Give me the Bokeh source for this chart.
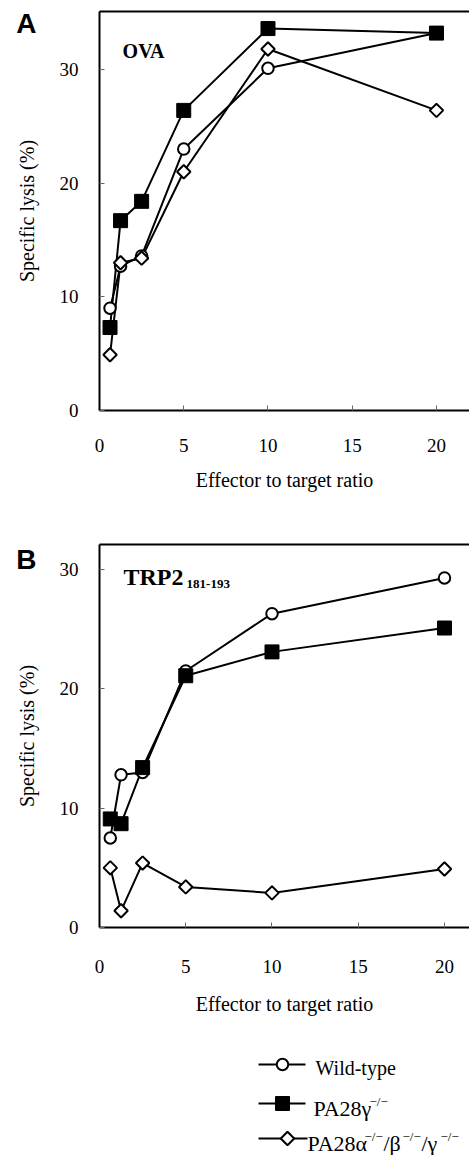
import math
from bokeh.plotting import figure
from bokeh.layouts import column
from bokeh.models import Range1d, LinearAxis, FixedTicker, Label, CustomJSTickFormatter
from bokeh.core.properties import value
from bokeh.embed import file_html
from bokeh.resources import INLINE

# ---------------- data ----------------
ratios = [0.625, 1.25, 2.5, 5, 10, 20]
ova_wild_type = [9.0, 12.7, 13.6, 23.0, 30.1, 33.2]
ova_pa28g = [7.3, 16.7, 18.4, 26.4, 33.6, 33.2]
ova_pa28abg = [4.9, 13.0, 13.4, 21.0, 31.8, 26.4]
trp2_wild_type = [7.5, 12.8, 13.0, 21.5, 26.3, 29.3]
trp2_pa28g = [9.1, 8.7, 13.4, 21.1, 23.1, 25.1]
trp2_pa28abg = [5.0, 1.4, 5.4, 3.4, 2.9, 4.9]
x_ticks = [0, 5, 10, 15, 20]
y_ticks = [0, 10, 20, 30]
x_label = "Effector to target ratio"
y_label = "Specific lysis (%)"

SERIF = "Liberation Serif"
SANS = "Liberation Sans"
W = 469
LEFT = 99


def make_panel(height, border_top, border_bottom, x_end, y_end,
               tick_standoff, xlabel_standoff, letter, letter_pos):
    p = figure(width=W, height=height, output_backend="svg", toolbar_location=None,
               x_range=Range1d(0, x_end), y_range=Range1d(0, y_end),
               min_border_left=LEFT, min_border_right=0,
               min_border_top=border_top, min_border_bottom=border_bottom)
    p.grid.visible = False
    p.outline_line_color = None
    for ax in (p.xaxis[0], p.yaxis[0]):
        ax.axis_line_width = 2
        ax.axis_line_color = "black"
        ax.major_tick_in = 5
        ax.major_tick_out = 0
        ax.major_tick_line_color = "#666666"
        ax.minor_tick_line_color = None
        ax.major_label_text_font = SERIF
        ax.major_label_text_font_size = "19px"
        ax.major_label_text_color = "black"
        ax.axis_label_text_font = SERIF
        ax.axis_label_text_font_size = "20px"
        ax.axis_label_text_font_style = "normal"
        ax.axis_label_text_color = "black"
    p.xaxis.ticker = FixedTicker(ticks=x_ticks)
    p.yaxis.ticker = FixedTicker(ticks=y_ticks)
    p.xaxis.axis_label = x_label
    p.yaxis.axis_label = y_label
    p.xaxis.major_label_standoff = tick_standoff
    p.xaxis.axis_label_standoff = xlabel_standoff
    p.yaxis.major_label_standoff = 21
    p.yaxis.axis_label_standoff = 19
    # top frame line
    top = LinearAxis(ticker=FixedTicker(ticks=[]), axis_line_width=2, axis_line_color="black",
                     major_tick_line_color=None, minor_tick_line_color=None,
                     major_label_standoff=0, major_tick_out=0, major_tick_in=0)
    p.add_layout(top, "above")
    # panel letter, drawn as the single label of an outer left axis (pixel-unit range)
    frame_h = height - border_top - border_bottom
    p.extra_y_ranges = {"letter": Range1d(0, frame_h)}
    lab = LinearAxis(y_range_name="letter", ticker=FixedTicker(ticks=[letter_pos]),
                     formatter=CustomJSTickFormatter(code='return "%s";' % letter),
                     axis_line_color=None, major_tick_line_color=None,
                     minor_tick_line_color=None, major_tick_in=0, major_tick_out=0,
                     major_label_standoff=-24, major_label_text_font=SANS,
                     major_label_text_font_size="28px", major_label_text_font_style="bold",
                     major_label_text_color="black")
    p.add_layout(lab, "left")
    return p


def draw_series(p, wt, g, abg):
    for ys in (wt, abg, g):
        p.line(ratios, ys, line_width=2, line_color="black")
    p.scatter(ratios, wt, marker="circle", size=11.5, fill_color="white",
              line_color="black", line_width=2)
    p.scatter(ratios, abg, marker="square", angle=math.pi / 4, size=9.5,
              fill_color="white", line_color="black", line_width=2)
    p.scatter(ratios, g, marker="square", size=14, fill_color="black",
              line_color="black", line_width=1)


lab_style = dict(text_font=SERIF, text_font_style="bold", text_align="left",
                 text_baseline="alphabetic", text_color="black")

# ---------------- panel A ----------------
pa = make_panel(495, 11, 85, 21.96, 35.1, 28, 14, "A", 387)
draw_series(pa, ova_wild_type, ova_pa28g, ova_pa28abg)
pa.add_layout(Label(x=1.37, y=31.6, text="OVA", text_font_size="20px", **lab_style))

# ---------------- panel B ----------------
pb = make_panel(535, 49, 103, 21.45, 32.1, 32, 17, "B", 368)
draw_series(pb, trp2_wild_type, trp2_pa28g, trp2_pa28abg)
pb.add_layout(Label(x=1.39, y=29.34, text="TRP2", text_font_size="24px", **lab_style))
pb.add_layout(Label(x=5.05, y=28.83, text="181-193", text_font_size="13px", **lab_style))

# ---------------- legend ----------------
LH = 125
pl = figure(width=W, height=LH, output_backend="svg", toolbar_location=None,
            x_range=Range1d(LEFT, W), y_range=Range1d(LH, 0),
            x_axis_location=None, y_axis_location=None,
            min_border_left=LEFT, min_border_right=0, min_border_top=0, min_border_bottom=0)
pl.grid.visible = False
pl.outline_line_color = None

row_y = [34, 73, 108]
pl.segment(x0=[258, 258, 258], y0=row_y, x1=[305, 305, 307], y1=row_y,
           line_width=2, line_color="black")
pl.scatter([282], [row_y[0]], marker="circle", size=11.5, fill_color="white",
           line_color="black", line_width=2)
pl.scatter([282], [row_y[1]], marker="square", size=14, fill_color="black",
           line_color="black", line_width=1)
pl.scatter([287], [row_y[2]], marker="square", angle=math.pi / 4, size=9.5,
           fill_color="white", line_color="black", line_width=2)

main_txt = dict(text_font=value(SERIF), text_baseline="alphabetic", text_align="left",
                text_color="black")
pl.text(x=[315], y=[37], text=["Wild-type"], text_font_size="20px", **main_txt)
pl.text(x=[313], y=[78], text=["PA28γ"], text_font_size="22px", **main_txt)
pl.text(x=[369], y=[71], text=["−/−"], text_font_size="13px", **main_txt)
pl.text(x=[307, 383, 421], y=[113, 113, 113], text=["PA28α", "/β", "/γ"],
        text_font_size="22px", **main_txt)
pl.text(x=[364, 402, 440], y=[106, 106, 106], text=["−/−", "−/−", "−/−"],
        text_font_size="13px", **main_txt)

layout = column(pa, pb, pl, spacing=0)
open("out.html", "w").write(file_html(layout, INLINE))
